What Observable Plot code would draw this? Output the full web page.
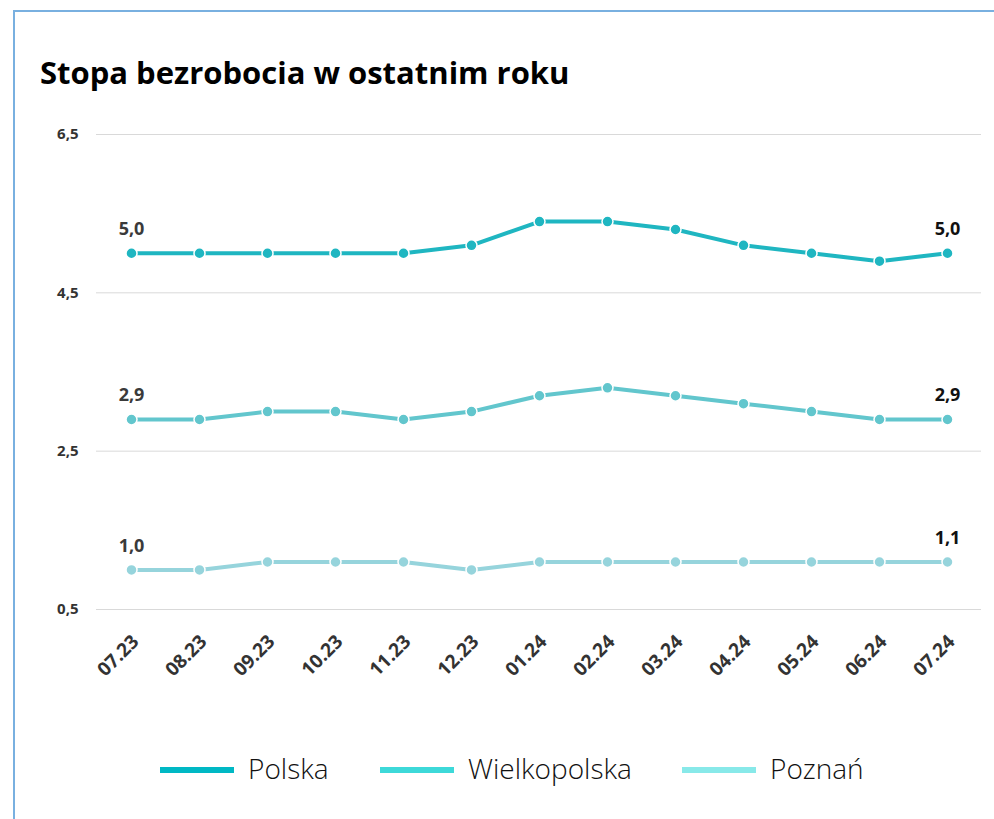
<!DOCTYPE html>
<html>
<head>
<meta charset="utf-8">
<script src="https://cdn.jsdelivr.net/npm/d3@7"></script>
<script src="https://cdn.jsdelivr.net/npm/@observablehq/plot@0.6"></script>
<style>
  html, body { margin: 0; padding: 0; background: #fff; }
  body { width: 994px; height: 819px; position: relative; overflow: hidden; font-family: "Open Sans", sans-serif; }
  #frame { position: absolute; left: 13px; top: 10px; width: 1000px; height: 830px; border-left: 2px solid #79b0e0; border-top: 2px solid #79b0e0; }
  #title { position: absolute; left: 40px; top: 57px; font-size: 31px; line-height: 1; font-weight: 700; color: #000; white-space: nowrap; }
  #chart { position: absolute; left: 0; top: 100px; }
  .item { position: absolute; top: 754px; display: flex; align-items: center; font-size: 28px; line-height: 1; font-weight: 300; color: #111; white-space: nowrap; }
  .sw { width: 74px; height: 6px; margin-right: 14px; margin-top: 3px; }
</style>
</head>
<body>
<div id="frame"></div>
<div id="title">Stopa bezrobocia w ostatnim roku</div>
<div id="chart"></div>
<div id="legend"></div>
<script>
const months = ["07.23","08.23","09.23","10.23","11.23","12.23","01.24","02.24","03.24","04.24","05.24","06.24","07.24"];
const polska = [5.0,5.0,5.0,5.0,5.0,5.1,5.4,5.4,5.3,5.1,5.0,4.9,5.0];
const wielkopolska = [2.9,2.9,3.0,3.0,2.9,3.0,3.2,3.3,3.2,3.1,3.0,2.9,2.9];
const poznan = [1.0,1.0,1.1,1.1,1.1,1.0,1.1,1.1,1.1,1.1,1.1,1.1,1.1];
const seriesNames = ["Polska","Wielkopolska","Poznań"];
const yTicks = [0.5,2.5,4.5,6.5];

const lineColors = {"Polska":"#1fb6c1","Wielkopolska":"#62c6cd","Poznań":"#96d4dc"};
const legendColors = {"Polska":"#00b8c4","Wielkopolska":"#3dd9d9","Poznań":"#88e9e9"};
const legendLeft = {"Polska":160,"Wielkopolska":380,"Poznań":682};

const values = [polska, wielkopolska, poznan];
const data = [];
seriesNames.forEach((s, si) => {
  months.forEach((m, i) => data.push({series: s, month: m, value: values[si][i], idx: i}));
});
const fmt = v => v.toFixed(1).replace(".", ",");
const endLabels = data.filter(d => d.idx === 0 || d.idx === months.length - 1);

const chart = Plot.plot({
  width: 994,
  height: 620,
  marginLeft: 96,
  marginRight: 13,
  marginTop: 34,
  marginBottom: 111,
  style: {fontFamily: "Open Sans, sans-serif", background: "transparent", overflow: "visible"},
  x: {type: "point", domain: months, padding: 0.5},
  y: {domain: [0.5, 6.5]},
  color: {domain: seriesNames, range: seriesNames.map(s => lineColors[s])},
  marks: [
    Plot.gridY(yTicks, {stroke: "#d9d9d9", strokeOpacity: 1, strokeWidth: 1}),
    Plot.axisY({ticks: yTicks, tickSize: 0, tickPadding: 18, tickFormat: fmt, fontSize: 15, fontWeight: "bold", fill: "#333", label: null}),
    Plot.axisX({tickSize: 0, tickPadding: 29, tickRotate: -45, dx: 4, fontSize: 19, fontWeight: "bold", fill: "#333", label: null}),
    Plot.line(data, {x: "month", y: "value", z: "series", stroke: "series", strokeWidth: 4, curve: "linear"}),
    Plot.dot(data, {x: "month", y: "value", fill: "series", r: 5.5, stroke: "#fff", strokeWidth: 1.5}),
    Plot.text(endLabels, {x: "month", y: "value", text: d => fmt(d.value), dy: -24, lineAnchor: "middle", fontSize: 18, fontWeight: "bold", fill: d => d.idx === 0 ? "#3a3a3a" : "#111"})
  ]
});
document.getElementById("chart").appendChild(chart);

const legend = document.getElementById("legend");
seriesNames.forEach(s => {
  const it = document.createElement("div");
  it.className = "item";
  it.style.left = legendLeft[s] + "px";
  const sw = document.createElement("div");
  sw.className = "sw";
  sw.style.background = legendColors[s];
  const tx = document.createElement("span");
  tx.textContent = s;
  it.appendChild(sw);
  it.appendChild(tx);
  legend.appendChild(it);
});
</script>
</body>
</html>
